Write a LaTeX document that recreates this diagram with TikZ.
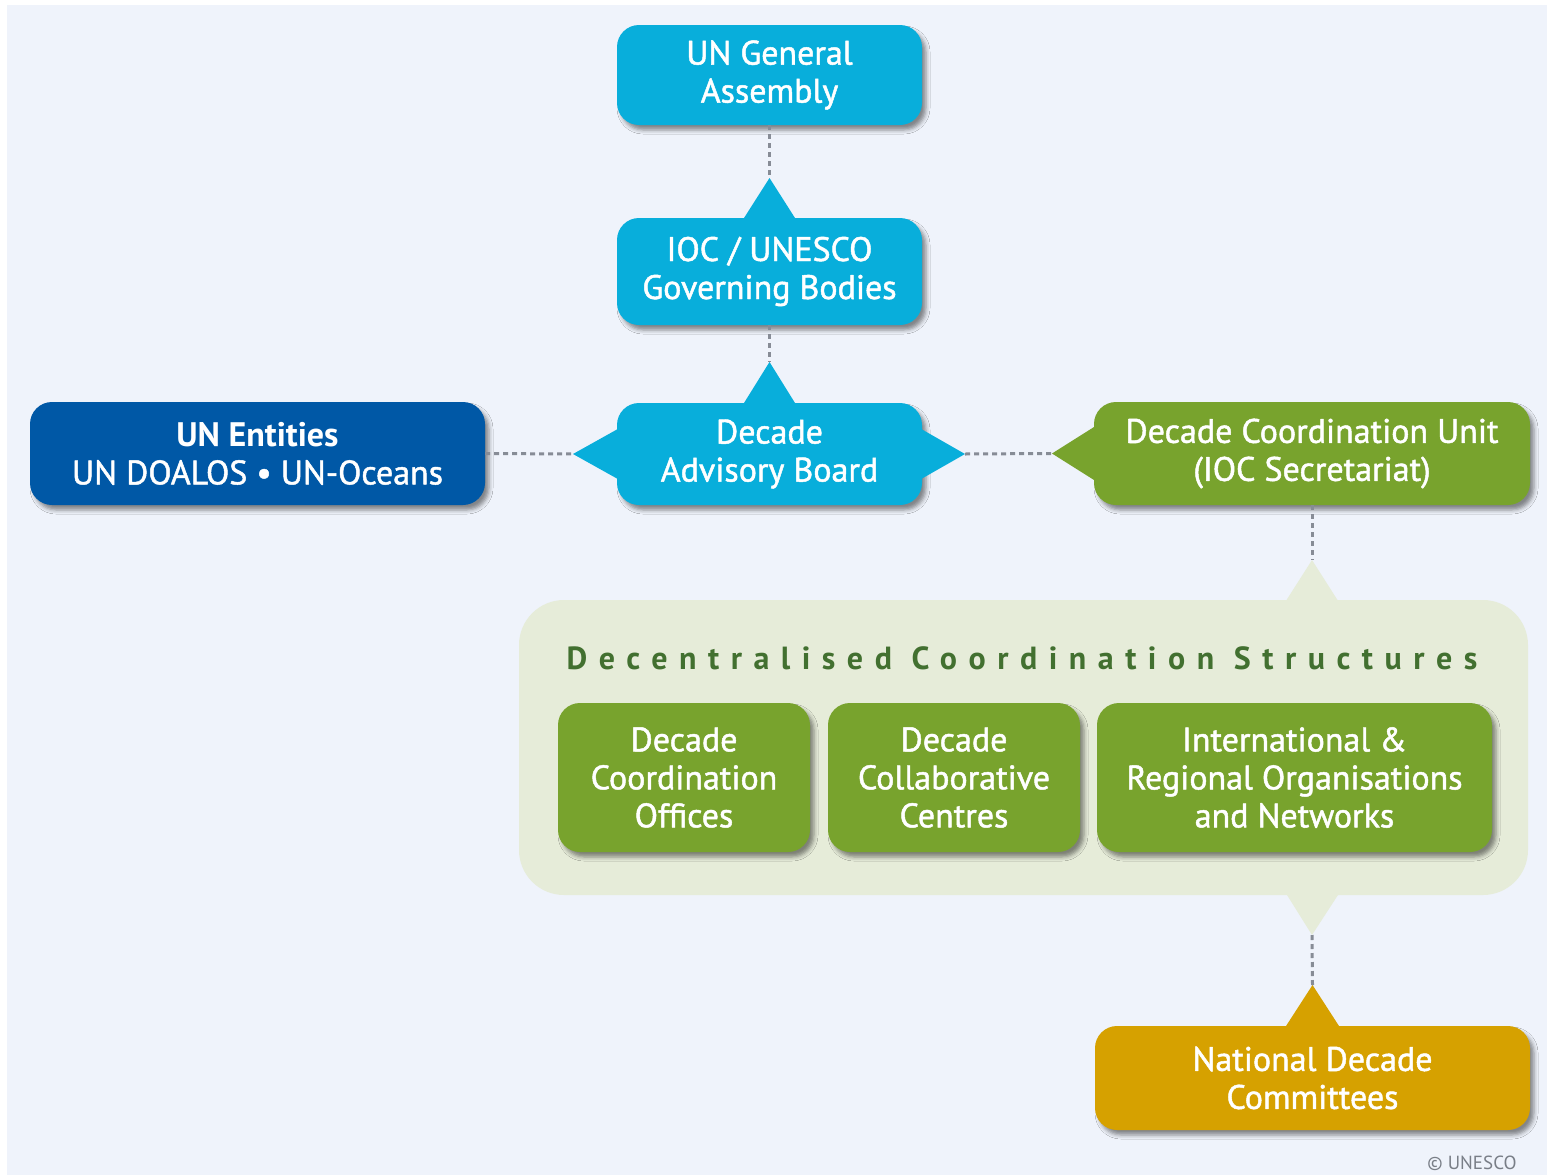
\documentclass[tikz,border=0pt]{standalone}
\usepackage{fontspec}
\setmainfont{PT Sans}
\newfontfamily\medfont{PT Sans}[FakeBold=1.4]
\usetikzlibrary{shadows.blur}
\definecolor{bgblue}{RGB}{239,243,251}
\definecolor{oceancyan}{RGB}{8,174,219}
\definecolor{undarkblue}{RGB}{0,88,166}
\definecolor{leafgreen}{RGB}{120,163,45}
\definecolor{panelgreen}{RGB}{230,236,217}
\definecolor{titlegreen}{RGB}{66,112,48}
\definecolor{goldbox}{RGB}{214,161,0}
\definecolor{linkgray}{RGB}{135,140,150}
\tikzset{
	orgbox/.style={rounded corners=22pt, text=white, align=center, inner sep=0pt,
		font=\medfont\fontsize{34}{38}\selectfont,
		blur shadow={shadow xshift=4pt, shadow yshift=-5pt, shadow blur radius=4pt, shadow opacity=45}},
	link/.style={linkgray, line width=3pt, dash pattern=on 5pt off 4pt}
}
\begin{document}
\begin{tikzpicture}[x=1pt, y=-1pt, line join=round]
			\def\bw{305} % width of the central column
			\useasboundingbox (0,0) rectangle (1547,1175);
			\fill[white] (0,0) rectangle (1547,1175);
			\fill[bgblue] (7,5) rectangle (1547,1175);
			% central column
			\node[orgbox, fill=oceancyan, minimum width=\bw, minimum height=100] (ga) at (769.5,75) {UN General\\Assembly};
			\node[orgbox, fill=oceancyan, minimum width=\bw, minimum height=107] (ioc) at (769.5,271.5) {IOC / UNESCO\\Governing Bodies};
			\node[orgbox, fill=oceancyan, minimum width=\bw, minimum height=102] (dab) at (769.5,454) {Decade\\Advisory Board};
			\node[orgbox, fill=undarkblue, minimum width=455, minimum height=103] (une) at (257.5,453.5) {{\normalfont\bfseries UN Entities}\\UN DOALOS \textbullet{} UN-Oceans};
			\node[orgbox, fill=leafgreen, minimum width=436, minimum height=103] (dcu) at (1312,453.5) {Decade Coordination Unit\\(IOC Secretariat)};
			% decentralised structures
			\node[fill=panelgreen, rounded corners=45pt, minimum width=1009, minimum height=295] (panel) at (1023.5,747.5) {};
			\node[text=titlegreen, font=\fontsize{32}{36}\selectfont\bfseries\addfontfeatures{LetterSpace=36}] (ttl) at (1022,658) {Decentralised Coordination Structures};
			\node[orgbox, fill=leafgreen, minimum width=252, minimum height=149] (dco) at (684,777.5) {Decade\\Coordination\\Offices};
			\node[orgbox, fill=leafgreen, minimum width=252, minimum height=149] (dcc) at (954,777.5) {Decade\\Collaborative\\Centres};
			\node[orgbox, fill=leafgreen, minimum width=395, minimum height=149] (iro) at (1294.5,777.5) {International \&\\Regional Organisations\\and Networks};
			\node[orgbox, fill=goldbox, minimum width=435, minimum height=104] (ndc) at (1312.5,1078) {National Decade\\Committees};
			\node[text=linkgray!90!black, font=\fontsize{19}{20}\selectfont] (cr) at (1472,1163) {© UNESCO};
			% pointer tips
			\coordinate (iocTip) at (769.5,178);
			\coordinate (dabTip) at (769.5,362);
			\coordinate (dabW) at (573,454);
			\coordinate (dabE) at (965,454);
			\coordinate (dcuTip) at (1052,453.5);
			\coordinate (panelTop) at (1312,560);
			\coordinate (panelBot) at (1312,935);
			\coordinate (ndcTip) at (1312.5,985);
			\fill[oceancyan] ([shift={(-26pt,-1pt)}]ioc.north) -- (iocTip) -- ([shift={(26pt,-1pt)}]ioc.north) -- cycle;
			\fill[oceancyan] ([shift={(-26pt,-1pt)}]dab.north) -- (dabTip) -- ([shift={(26pt,-1pt)}]dab.north) -- cycle;
			\fill[oceancyan] ([shift={(1pt,25pt)}]dab.west) -- (dabW) -- ([shift={(1pt,-25pt)}]dab.west) -- cycle;
			\fill[oceancyan] ([shift={(-1pt,25pt)}]dab.east) -- (dabE) -- ([shift={(-1pt,-25pt)}]dab.east) -- cycle;
			\fill[leafgreen] ([shift={(1pt,27pt)}]dcu.west) -- (dcuTip) -- ([shift={(1pt,-27pt)}]dcu.west) -- cycle;
			\fill[panelgreen] ([shift={(-26pt,-1pt)}]panel.north -| dcu.south) -- (panelTop) -- ([shift={(26pt,-1pt)}]panel.north -| dcu.south) -- cycle;
			\fill[panelgreen] ([shift={(-26pt,1pt)}]panel.south -| ndc.north) -- (panelBot) -- ([shift={(26pt,1pt)}]panel.south -| ndc.north) -- cycle;
			\fill[goldbox] ([shift={(-27pt,-1pt)}]ndc.north) -- (ndcTip) -- ([shift={(27pt,-1pt)}]ndc.north) -- cycle;
			% dotted links
			\draw[link] (ga.south) -- (iocTip);
			\draw[link] (ioc.south) -- (dabTip);
			\draw[link] (une.east) -- (dabW);
			\draw[link] (dabE) -- (dcuTip);
			\draw[link] (dcu.south) -- (panelTop);
			\draw[link] (panelBot) -- (ndcTip);
\end{tikzpicture}
\end{document}
